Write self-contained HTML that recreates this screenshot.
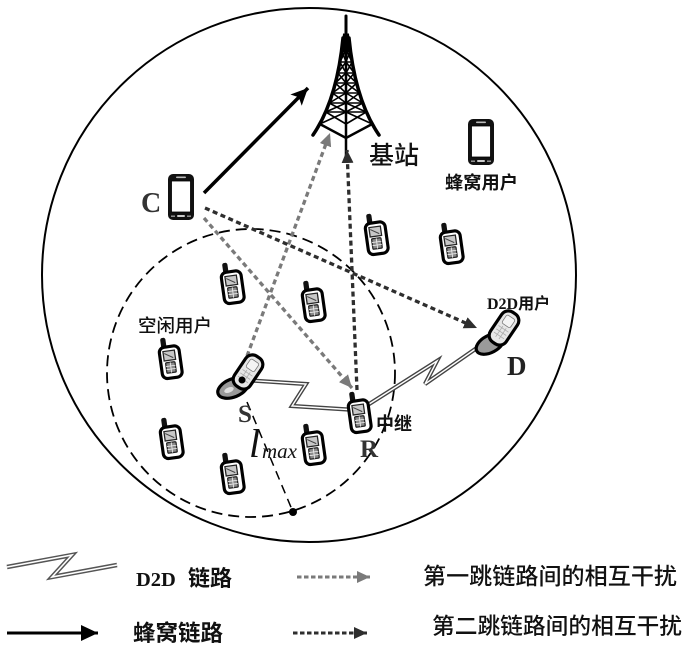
<!DOCTYPE html>
<html>
<head>
<meta charset="utf-8">
<style>
html,body{margin:0;padding:0;background:#fff;}
svg{display:block;}
.cjk{font-family:"Liberation Sans","Noto Sans CJK SC",sans-serif;}
.ser{font-family:"Liberation Serif","Noto Serif CJK SC",serif;}
</style>
</head>
<body>
<svg width="691" height="652" viewBox="0 0 691 652" xmlns="http://www.w3.org/2000/svg">
<defs>
  <marker id="ag" markerUnits="userSpaceOnUse" markerWidth="14" markerHeight="14" refX="13" refY="7" orient="auto">
    <path d="M0,1 L13,7 L0,13 z" fill="#7a7a7a"/>
  </marker>
  <marker id="ad" markerUnits="userSpaceOnUse" markerWidth="14" markerHeight="14" refX="13" refY="7" orient="auto">
    <path d="M0,1 L13,7 L0,13 z" fill="#2e2e2e"/>
  </marker>
  <marker id="ab" markerUnits="userSpaceOnUse" markerWidth="18" markerHeight="18" refX="17" refY="9" orient="auto">
    <path d="M0,1 L17,9 L0,17 L4,9 z" fill="#000"/>
  </marker>
  <marker id="ab2" markerUnits="userSpaceOnUse" markerWidth="18" markerHeight="18" refX="17" refY="9" orient="auto">
    <path d="M0,1 L17,9 L0,17 z" fill="#000"/>
  </marker>

  <g id="walk">
    <rect x="-7" y="-19" width="5" height="11" rx="2" fill="#111"/>
    <rect x="-9.5" y="-10" width="19" height="30" rx="5" fill="#fff" stroke="#000" stroke-width="3"/>
    <rect x="-6" y="-6" width="11" height="9" fill="#c8c8c8" stroke="#222" stroke-width="1.2"/>
    <line x1="-5" y1="-4" x2="3" y2="1" stroke="#444" stroke-width="1"/>
    <rect x="-5" y="5" width="9" height="10" rx="1" fill="#8a8a8a" stroke="#222" stroke-width="1.2"/>
    <line x1="-5" y1="8.5" x2="4" y2="8.5" stroke="#eee" stroke-width="0.8"/>
    <line x1="-5" y1="11.5" x2="4" y2="11.5" stroke="#eee" stroke-width="0.8"/>
    <line x1="-0.5" y1="5" x2="-0.5" y2="15" stroke="#eee" stroke-width="0.8"/>
  </g>

  <g id="smart">
    <rect x="-13" y="-23" width="26" height="46" rx="5" fill="#111"/>
    <rect x="-9.5" y="-16" width="19" height="31" fill="#fff" stroke="#000" stroke-width="0.8"/>
    <rect x="-5" y="-20.5" width="10" height="1.6" rx="0.8" fill="#bbb"/>
    <rect x="-4" y="18" width="8" height="2" rx="1" fill="#ccc"/>
    <rect x="-10" y="18.5" width="4" height="1.4" fill="#999"/>
    <rect x="6" y="18.5" width="4" height="1.4" fill="#999"/>
  </g>

  <g id="lid">
    <rect x="-9.5" y="-18" width="19" height="36" rx="8" fill="#e6e6e6" stroke="#000" stroke-width="3.2"/>
    <rect x="-5" y="-13" width="10" height="10" rx="2" fill="#f4f4f4" stroke="#777" stroke-width="0.8"/>
    <g stroke="#aaa" stroke-width="0.8">
      <line x1="-6" y1="1" x2="6" y2="1"/>
      <line x1="-6" y1="5" x2="6" y2="5"/>
      <line x1="-6" y1="9" x2="6" y2="9"/>
      <line x1="-2" y1="-1" x2="-2" y2="12"/>
      <line x1="2" y1="-1" x2="2" y2="12"/>
    </g>
  </g>
</defs>

<!-- big cell -->
<ellipse cx="309" cy="275" rx="267" ry="267" fill="none" stroke="#000" stroke-width="2"/>

<!-- relay range dashed circle -->
<circle cx="251" cy="373" r="144" fill="none" stroke="#000" stroke-width="1.8" stroke-dasharray="11 6"/>

<!-- l_max line -->
<line x1="247" y1="402" x2="293" y2="512" stroke="#000" stroke-width="1.5" stroke-dasharray="9 6"/>
<circle cx="293" cy="512" r="4" fill="#000"/>

<!-- tower -->
<g stroke="#000" fill="none" stroke-linecap="round">
  <line x1="346" y1="16" x2="346" y2="40" stroke-width="3"/>
  <path d="M343,38 Q337,100 313,135" stroke-width="3.5"/>
  <path d="M349,38 Q355,100 379,135" stroke-width="3.5"/>
  <polygon points="343.5,34 348.5,34 351,52 341,52" fill="#000" stroke-width="1"/>
  <line x1="346" y1="40" x2="346" y2="156" stroke-width="2.5"/>
  <g stroke-width="1.6">
    <line x1="341.6" y1="50" x2="350.4" y2="50"/>
    <line x1="339.9" y1="62" x2="352.1" y2="62"/>
    <line x1="337.8" y1="73" x2="354.2" y2="73"/>
    <line x1="335.3" y1="83" x2="356.7" y2="83"/>
    <line x1="332.5" y1="93" x2="359.5" y2="93"/>
    <line x1="329.3" y1="103" x2="362.7" y2="103"/>
    <line x1="325.8" y1="112" x2="366.2" y2="112"/>
    <line x1="341.6" y1="50" x2="346" y2="62"/><line x1="346" y1="50" x2="339.9" y2="62"/>
    <line x1="339.9" y1="62" x2="346" y2="73"/><line x1="346" y1="62" x2="337.8" y2="73"/>
    <line x1="337.8" y1="73" x2="346" y2="83"/><line x1="346" y1="73" x2="335.3" y2="83"/>
    <line x1="335.3" y1="83" x2="346" y2="93"/><line x1="346" y1="83" x2="332.5" y2="93"/>
    <line x1="332.5" y1="93" x2="346" y2="103"/><line x1="346" y1="93" x2="329.3" y2="103"/>
    <line x1="329.3" y1="103" x2="346" y2="112"/><line x1="346" y1="103" x2="325.8" y2="112"/>
    <line x1="325.8" y1="112" x2="346" y2="124"/><line x1="346" y1="112" x2="319.8" y2="124"/>
    <line x1="350.4" y1="50" x2="346" y2="62"/><line x1="346" y1="50" x2="352.1" y2="62"/>
    <line x1="352.1" y1="62" x2="346" y2="73"/><line x1="346" y1="62" x2="354.2" y2="73"/>
    <line x1="354.2" y1="73" x2="346" y2="83"/><line x1="346" y1="73" x2="356.7" y2="83"/>
    <line x1="356.7" y1="83" x2="346" y2="93"/><line x1="346" y1="83" x2="359.5" y2="93"/>
    <line x1="359.5" y1="93" x2="346" y2="103"/><line x1="346" y1="93" x2="362.7" y2="103"/>
    <line x1="362.7" y1="103" x2="346" y2="112"/><line x1="346" y1="103" x2="366.2" y2="112"/>
    <line x1="366.2" y1="112" x2="346" y2="124"/><line x1="346" y1="112" x2="372.2" y2="124"/>
  </g>
  <polyline points="319.8,124 346,138 372.2,124" stroke-width="2.5"/>
</g>

<!-- interference lines -->
<g fill="none" stroke-width="3.3" stroke-dasharray="5 3.5">
  <line x1="204" y1="218" x2="352" y2="388" stroke="#7a7a7a" marker-end="url(#ag)"/>
  <line x1="247" y1="356" x2="330" y2="133" stroke="#7a7a7a" marker-end="url(#ag)"/>
  <line x1="205" y1="208" x2="477" y2="328" stroke="#2e2e2e" marker-end="url(#ad)"/>
  <line x1="357" y1="390" x2="347" y2="150" stroke="#2e2e2e" marker-end="url(#ad)"/>
</g>

<!-- cellular link -->
<line x1="204" y1="193" x2="308" y2="88" stroke="#000" stroke-width="3.5" marker-end="url(#ab)"/>

<!-- D2D links -->
<g fill="none" stroke-linejoin="miter">
  <polyline points="243,380 306,384 292,406 356,410" stroke="#444" stroke-width="4.2"/>
  <polyline points="243,380 306,384 292,406 356,410" stroke="#fff" stroke-width="1.4"/>
  <polyline points="366,406 437,361 425,384 484,343" stroke="#444" stroke-width="4.2"/>
  <polyline points="366,406 437,361 425,384 484,343" stroke="#fff" stroke-width="1.4"/>
</g>

<!-- idle / walkie phones -->
<use href="#walk" transform="translate(232,282) rotate(-8) scale(1.05)"/>
<use href="#walk" transform="translate(313,300) rotate(-8) scale(1.05)"/>
<use href="#walk" transform="translate(376,233) rotate(-8) scale(1.05)"/>
<use href="#walk" transform="translate(451,242) rotate(-8) scale(1.05)"/>
<use href="#walk" transform="translate(170,357) rotate(-8) scale(1.05)"/>
<use href="#walk" transform="translate(171,437) rotate(-8) scale(1.05)"/>
<use href="#walk" transform="translate(232,472) rotate(-8) scale(1.05)"/>
<use href="#walk" transform="translate(313,443) rotate(-8) scale(1.05)"/>
<use href="#walk" transform="translate(359,411) rotate(-8) scale(1.05)"/>

<!-- smartphones -->
<use href="#smart" transform="translate(181,197)"/>
<use href="#smart" transform="translate(481,142)"/>

<!-- flip phone S -->
<ellipse cx="233" cy="388" rx="16" ry="9" transform="rotate(-22 233 388)" fill="#9a9a9a" stroke="#000" stroke-width="3.2"/>
<ellipse cx="229" cy="390" rx="5" ry="2.5" transform="rotate(-22 229 390)" fill="#e0e0e0"/>
<use href="#lid" transform="translate(248,372) rotate(34)"/>
<circle cx="242" cy="380" r="3.5" fill="#000"/>

<!-- flip phone D -->
<ellipse cx="490" cy="344" rx="15" ry="8.5" transform="rotate(-28 490 344)" fill="#9a9a9a" stroke="#000" stroke-width="3.2"/>
<use href="#lid" transform="translate(504,328) rotate(34)"/>

<!-- labels -->
<text x="369" y="164" class="cjk" font-size="25" font-weight="500" fill="#111">基站</text>
<text x="445" y="189" class="cjk" font-size="18" font-weight="700" fill="#111" textLength="73" lengthAdjust="spacingAndGlyphs">蜂窝用户</text>
<text x="141" y="212" class="ser" font-size="28" font-weight="700" fill="#333">C</text>
<text x="138" y="332" class="cjk" font-size="18" font-weight="500" fill="#111" textLength="74" lengthAdjust="spacingAndGlyphs">空闲用户</text>
<text x="487" y="309" font-size="16" fill="#111"><tspan class="ser" font-weight="700">D2D</tspan><tspan class="cjk" font-weight="700">用户</tspan></text>
<text x="507" y="375" class="ser" font-size="27" font-weight="700" fill="#222">D</text>
<text x="238" y="422" class="ser" font-size="25" font-weight="700" fill="#333">S</text>
<text x="360" y="457" class="ser" font-size="25" font-weight="700" fill="#333">R</text>
<text x="376" y="430" class="cjk" font-size="18" font-weight="700" fill="#111">中继</text>
<text x="249" y="457" class="ser" font-size="40" font-style="italic" fill="#111">l</text>
<text x="262" y="458" class="ser" font-size="21" font-style="italic" fill="#111">max</text>

<!-- legend -->
<g fill="none">
  <polyline points="7,567 72,555 52,577 117,565" stroke="#555" stroke-width="4.5"/>
  <polyline points="7,567 72,555 52,577 117,565" stroke="#fff" stroke-width="1.6"/>
</g>
<text x="136" y="586" class="ser" font-size="20.5" font-weight="700" fill="#111">D2D</text>
<text x="188" y="586" class="cjk" font-size="22" font-weight="700" fill="#111">链路</text>
<line x1="297" y1="577" x2="370" y2="577" stroke="#7a7a7a" stroke-width="3" stroke-dasharray="4.5 2.5" marker-end="url(#ag)"/>
<text x="423" y="584" class="cjk" font-size="23" font-weight="500" fill="#111" textLength="254" lengthAdjust="spacingAndGlyphs">第一跳链路间的相互干扰</text>

<line x1="7" y1="633" x2="98" y2="633" stroke="#000" stroke-width="3" marker-end="url(#ab2)"/>
<text x="133" y="641" class="cjk" font-size="22.5" font-weight="700" fill="#111" textLength="90" lengthAdjust="spacingAndGlyphs">蜂窝链路</text>
<line x1="293" y1="633" x2="367" y2="633" stroke="#2e2e2e" stroke-width="3" stroke-dasharray="4.5 2.5" marker-end="url(#ad)"/>
<text x="432" y="634" class="cjk" font-size="22.7" font-weight="500" fill="#111" textLength="250" lengthAdjust="spacingAndGlyphs">第二跳链路间的相互干扰</text>
</svg>
</body>
</html>
